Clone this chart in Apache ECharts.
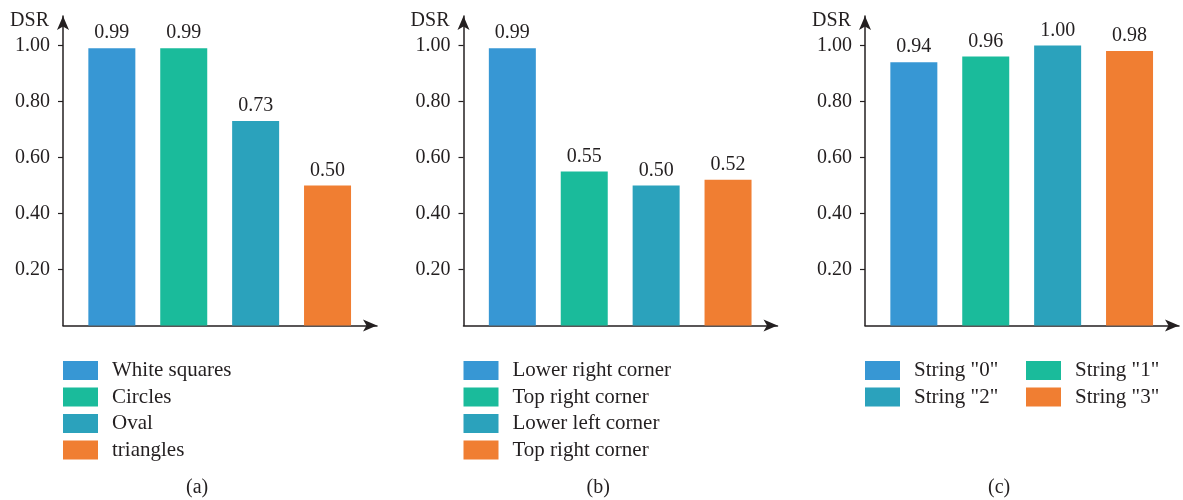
<!DOCTYPE html>
<html>
<head>
<meta charset="utf-8">
<script src="https://cdn.jsdelivr.net/npm/echarts@6/dist/echarts.min.js"></script>
<style>html,body{margin:0;padding:0;background:#fff;}#c{width:1183px;height:500px;}</style>
</head>
<body>
<div id="c"></div>
<script>
// ---- data ----
const catsA = ['White squares', 'Circles', 'Oval', 'triangles'];
const valsA = [0.99, 0.99, 0.73, 0.50];
const catsB = ['Lower right corner', 'Top right corner', 'Lower left corner', 'Top right corner'];
const valsB = [0.99, 0.55, 0.50, 0.52];
const catsC = ['String "0"', 'String "1"', 'String "2"', 'String "3"'];
const valsC = [0.94, 0.96, 1.00, 0.98];
const yTicks = [0.20, 0.40, 0.60, 0.80, 1.00];
const captions = ['(a)', '(b)', '(c)'];
const colors = ['#3797d4', '#1abb9b', '#2ba2bc', '#f07e32'];

const FONT = 'Liberation Serif';
const TXT = '#231f20';
const panels = [
  {key: 'a', cats: catsA, vals: valsA, left: 63},
  {key: 'b', cats: catsB, vals: valsB, left: 463.5},
  {key: 'c', cats: catsC, vals: valsC, left: 865}
];
const nameMap = {};
const grid = [], xAxis = [], yAxis = [], series = [], legend = [], title = [];
panels.forEach((p, pi) => {
  grid.push({left: p.left, top: 16, width: 314, height: 309.5});
  xAxis.push({
    type: 'value', gridIndex: pi, min: 0.3206, max: 4.688,
    axisLine: {show: true, onZero: true, symbol: ['none', 'arrow'], symbolSize: [9, 14],
      lineStyle: {color: TXT, width: 1.5}},
    axisTick: {show: false}, axisLabel: {show: false}, splitLine: {show: false}
  });
  yAxis.push({
    type: 'value', gridIndex: pi, min: 0, max: 1.105, interval: 0.2,
    name: 'DSR', nameLocation: 'end', nameGap: -5,
    nameTextStyle: {fontFamily: FONT, fontSize: 20, color: TXT, align: 'right', verticalAlign: 'middle', padding: [0, 14, 0, 0]},
    axisLine: {show: true, symbol: ['none', 'arrow'], symbolSize: [9, 14], lineStyle: {color: TXT, width: 1.5}},
    axisTick: {show: true, length: 5, customValues: yTicks, lineStyle: {color: TXT, width: 1.2}},
    axisLabel: {customValues: yTicks, margin: 13, fontFamily: FONT, fontSize: 20, color: TXT,
      formatter: v => v.toFixed(2)},
    splitLine: {show: false}
  });
  const names = [];
  p.cats.forEach((c, i) => {
    const nm = p.key + i;
    nameMap[nm] = c;
    names.push(nm);
    series.push({
      type: 'bar', name: nm, xAxisIndex: pi, yAxisIndex: pi,
      data: [[i + 1, p.vals[i]]], barWidth: 47, barGap: '-100%',
      itemStyle: {color: colors[i]},
      label: {show: true, position: 'top', distance: 5, fontFamily: FONT, fontSize: 20, color: TXT,
        formatter: d => d.value[1].toFixed(2)}
    });
  });
  const legCommon = {
    orient: 'vertical', top: 360, padding: 0, itemWidth: 35, itemHeight: 19, itemGap: 5.5,
    icon: 'rect', selectedMode: false,
    textStyle: {fontFamily: FONT, fontSize: 21, color: TXT, lineHeight: 19, padding: [0, 0, 0, 9]},
    formatter: n => nameMap[n]
  };
  if (p.key === 'c') {
    legend.push(Object.assign({}, legCommon, {left: p.left, data: [names[0], names[2]]}));
    legend.push(Object.assign({}, legCommon, {left: p.left + 161, data: [names[1], names[3]]}));
  } else {
    legend.push(Object.assign({}, legCommon, {left: p.left, data: names}));
  }
  title.push({text: captions[pi], left: p.left + 123, top: 478, padding: 0,
    textStyle: {fontFamily: FONT, fontSize: 20, fontWeight: 'normal', color: TXT}});
});

const chart = echarts.init(document.getElementById('c'), null, {renderer: 'canvas'});
chart.setOption({animation: false, grid, xAxis, yAxis, series, legend, title, tooltip: {show: false}});
</script>
</body>
</html>
